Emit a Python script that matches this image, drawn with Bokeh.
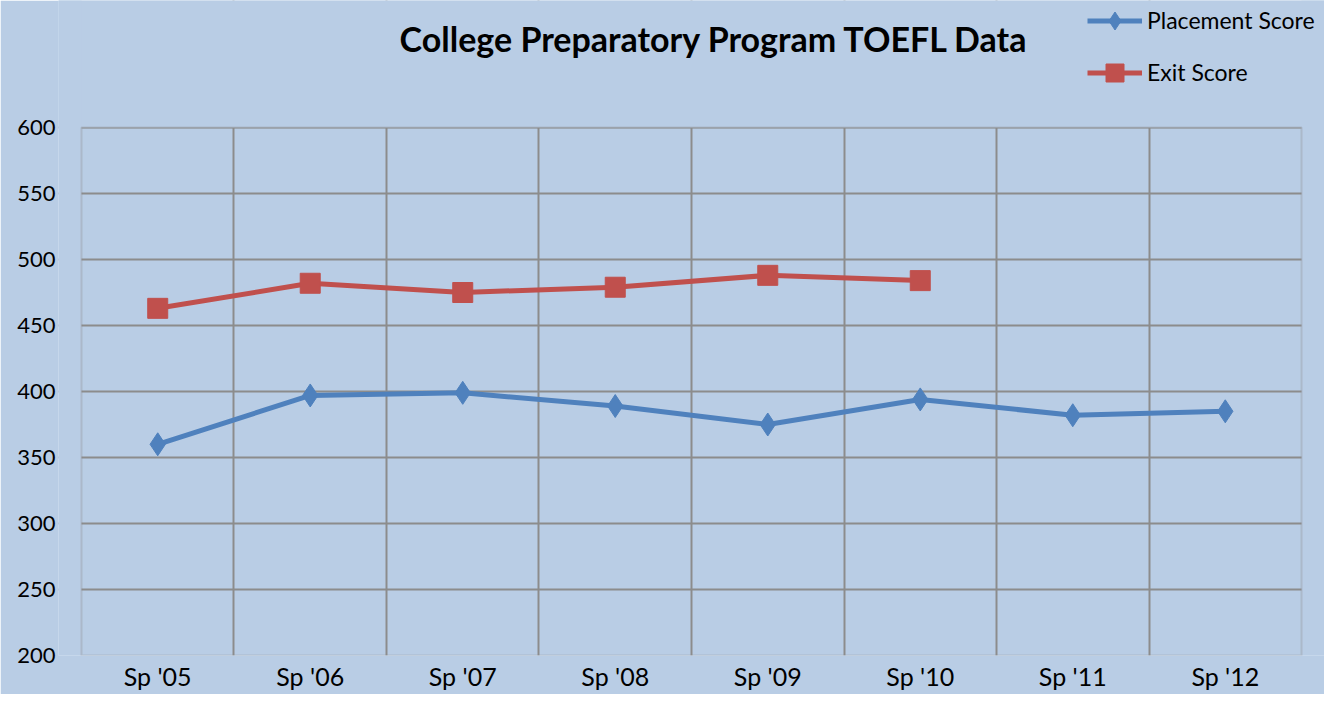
from bokeh.plotting import figure
from bokeh.models import (FactorRange, Range1d, FixedTicker, Grid, BoxAnnotation,
                          Legend, LegendItem, Label)
from bokeh.embed import file_html
from bokeh.resources import INLINE

seasons = ["Sp '05", "Sp '06", "Sp '07", "Sp '08", "Sp '09", "Sp '10", "Sp '11", "Sp '12"]
placement = [360, 397, 399, 389, 375, 394, 382, 385]
exit_seasons = ["Sp '05", "Sp '06", "Sp '07", "Sp '08", "Sp '09", "Sp '10"]
exit_score = [463, 482, 475, 479, 488, 484]
y_ticks = [200, 250, 300, 350, 400, 450, 500, 550, 600]

BG = "#B9CDE5"
GRID = "#8C8C8C"
BLUE = "#4F81BD"
RED = "#C0504D"
FONT = "Lato"

W, H = 1324, 694
LEFT, BOTTOM = 58, 39            # side panels
PLOT_TOP = 127                   # where the 600 line sits (px from top)
PAD_PX = 23                      # frame extends this far past the category area
frame_w = W - LEFT
frame_h = H - BOTTOM
band = frame_w / (len(seasons) + 2 * PAD_PX / (frame_w / len(seasons)))
pad = PAD_PX / band
ppu = (frame_h - PLOT_TOP) / (y_ticks[-1] - y_ticks[0])
y_top = y_ticks[-1] + PLOT_TOP / ppu

p = figure(x_range=FactorRange(*seasons, range_padding=pad, range_padding_units="absolute"),
           y_range=Range1d(y_ticks[0], y_top),
           width=W, height=H, output_backend="svg", toolbar_location=None,
           title_location=None,
           min_border_left=LEFT, min_border_right=0,
           min_border_top=0, min_border_bottom=BOTTOM)
p.background_fill_color = BG
p.border_fill_color = BG
p.outline_line_color = None

# grids: vertical lines at category boundaries
for g in list(p.grid):
    g.visible = False
xg = Grid(dimension=0, ticker=FixedTicker(ticks=list(range(1, len(seasons)))),
          grid_line_color=GRID, grid_line_width=2)
yg = Grid(dimension=1, ticker=FixedTicker(ticks=y_ticks),
          grid_line_color=GRID, grid_line_width=2)
p.add_layout(xg)
p.add_layout(yg)

# axes
for ax in (p.xaxis, p.yaxis):
    ax.axis_line_color = None
    ax.major_tick_line_color = None
    ax.minor_tick_line_color = None
    ax.major_tick_out = 0
    ax.major_tick_in = 0
    ax.major_label_text_color = "black"
    ax.major_label_text_font = FONT
p.yaxis.ticker = FixedTicker(ticks=y_ticks)
p.yaxis.major_label_text_font_size = "22px"
p.yaxis.major_label_standoff = 3
p.xaxis.major_label_text_font_size = "25px"
p.xaxis.major_label_standoff = 5

# series
bl = p.line(seasons, placement, line_color=BLUE, line_width=5)
bm = p.scatter(seasons, placement, marker="diamond", size=23, fill_color=BLUE,
               line_color=BLUE)
rl = p.line(exit_seasons, exit_score, line_color=RED, line_width=5)
rm = p.scatter(exit_seasons, exit_score, marker="square", size=20, fill_color=RED,
               line_color=RED)

# keep the plot area clean outside its box, then draw the box
n = len(seasons)
for box in (BoxAnnotation(bottom=y_ticks[-1], fill_color=BG, fill_alpha=1, line_color=None),
            BoxAnnotation(right=0, fill_color=BG, fill_alpha=1, line_color=None),
            BoxAnnotation(left=n, fill_color=BG, fill_alpha=1, line_color=None),
            BoxAnnotation(left=0, right=n, bottom=y_ticks[0], top=y_ticks[-1],
                          fill_alpha=0, line_color=GRID, line_width=2)):
    p.add_layout(box)

ITEM_H = 45
legend = Legend(items=[LegendItem(label="Placement Score", renderers=[bl, bm]),
                       LegendItem(label="Exit Score", renderers=[rl, rm])],
                location=(1087 - LEFT, frame_h - (20 - ITEM_H / 2 + 2 * ITEM_H + 7)),
                orientation="vertical",
                glyph_width=55, glyph_height=ITEM_H, label_height=ITEM_H,
                label_standoff=5, spacing=7,
                padding=0, margin=0, border_line_color=None,
                background_fill_alpha=0, label_text_font=FONT,
                label_text_font_size="23px", label_text_color="black")
p.add_layout(legend)

title = Label(x=714 - LEFT, y=frame_h - 38, x_units="screen", y_units="screen",
              text="College Preparatory Program TOEFL Data", text_align="center",
              text_baseline="middle", text_font=FONT, text_font_style="bold",
              text_font_size="34px", text_color="black")
p.add_layout(title)

open("out.html", "w").write(file_html(p, INLINE))
